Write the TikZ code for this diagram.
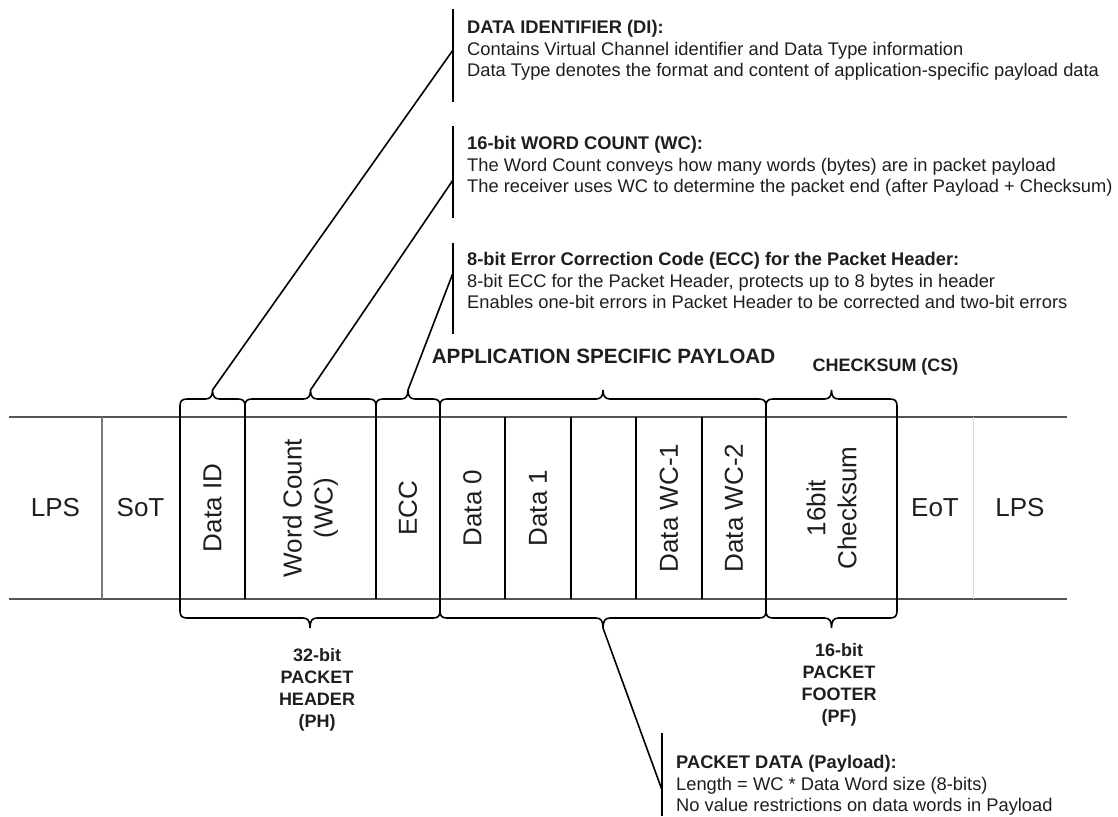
\documentclass[tikz,border=0pt]{standalone}
\usepackage{fontspec}
\setmainfont{Liberation Sans}
\usetikzlibrary{positioning}
\definecolor{lanegray}{HTML}{555555}
\definecolor{midgray}{HTML}{7A7A7A}
\definecolor{palegray}{HTML}{D8D8D8}
\definecolor{inkgray}{HTML}{1E1E1E}
\tikzset{field/.style={inner sep=0pt,align=center,text=inkgray,
 font=\fontsize{26}{31}\selectfont},
 vfield/.style={field,rotate=90},
 lane/.style={draw=lanegray,line width=2pt},
 divider/.style={draw=black,line width=1.5pt},
 softdivider/.style={draw=midgray,line width=1.2pt},
 faintdivider/.style={draw=palegray,line width=1pt},
 bracket/.style={draw=black,line width=1.6pt},
 leader/.style={draw=black,line width=1.6pt},
 notebar/.style={draw=black,line width=2pt},
 note/.style={anchor=north west,inner sep=0pt,align=left,text=inkgray,
 font=\fontsize{18.3}{21.5}\selectfont},
 heading/.style={anchor=base,inner sep=0pt,text=inkgray,font=\bfseries\fontsize{18}{21.5}\selectfont},
 caption/.style={anchor=north,inner sep=0pt,align=center,text=inkgray,
 font=\bfseries\fontsize{18}{22}\selectfont}}
% brace above a group of fields, tip named #1tip
\newcommand{\topbrace}[3]{%
 \pgfmathsetmacro\bmid{(#2+#3)/2}
 \coordinate (#1tip) at (\bmid,390);
 \draw[bracket] (#2,417) -- (#2,406) .. controls (#2,401) and (#2+2,399) .. (#2+7,399)
  -- (\bmid-7,399) .. controls (\bmid-2,399) and (\bmid,396) .. (#1tip)
  .. controls (\bmid,396) and (\bmid+2,399) .. (\bmid+7,399)
  -- (#3-7,399) .. controls (#3-2,399) and (#3,401) .. (#3,406) -- (#3,417);}
% brace below a group of fields, tip named #1tip
\newcommand{\lowbrace}[3]{%
 \pgfmathsetmacro\bmid{(#2+#3)/2}
 \coordinate (#1tip) at (\bmid,628);
 \draw[bracket] (#2,599) -- (#2,611) .. controls (#2,616) and (#2+2,618) .. (#2+7,618)
  -- (\bmid-7,618) .. controls (\bmid-2,618) and (\bmid,621) .. (#1tip)
  .. controls (\bmid,621) and (\bmid+2,618) .. (\bmid+7,618)
  -- (#3-7,618) .. controls (#3-2,618) and (#3,616) .. (#3,611) -- (#3,599);}

\begin{document}
\begin{tikzpicture}[x=1pt,y=-1pt]
 \useasboundingbox (0,0) rectangle (1118,816);
 % packet lane
 \draw[lane] (9,417) -- (1067,417);
 \draw[lane] (9,599) -- (1067,599);
 \draw[softdivider] (102,417) -- (102,599);
 \draw[faintdivider] (973,417) -- (973,599);
 \foreach \xx in {180,245,376,440,505,571,636,702,766,897}
  \draw[divider] (\xx,417) -- (\xx,599);
 \node[field] (lpsa) at (55.5,508) {LPS};
 \node[field] (sot) at (140.5,508) {SoT};
 \node[vfield] (did) at (212.5,508) {Data ID};
 \node[vfield] (wc) at (310.5,508) {Word Count\\(WC)};
 \node[vfield] (ecc) at (408,508) {ECC};
 \node[vfield] (dzero) at (472.5,508) {Data 0};
 \node[vfield] (done) at (538,508) {Data 1};
 \node[vfield] (dwca) at (669,508) {Data WC-1};
 \node[vfield] (dwcb) at (734,508) {Data WC-2};
 \node[vfield] (cs) at (831.5,508) {16bit\\Checksum};
 \node[field] (eot) at (935,508) {EoT};
 \node[field] (lpsb) at (1020,508) {LPS};
 % braces
 \topbrace{di}{180}{245}
 \topbrace{wcount}{245}{376}
 \topbrace{code}{376}{440}
 \topbrace{pay}{440}{766}
 \topbrace{sum}{766}{897}
 \lowbrace{ph}{180}{440}
 \lowbrace{pd}{440}{766}
 \lowbrace{pf}{766}{897}
 \node[heading,font=\bfseries\fontsize{20.7}{24}\selectfont] (paytitle) at (603.5,363) {APPLICATION SPECIFIC PAYLOAD};
 \node[heading] (sumtitle) at (885.5,371.5) {CHECKSUM (CS)};
 \node[caption] (phcap) at (317,648) {32-bit\\PACKET\\HEADER\\(PH)};
 \node[caption] (pfcap) at (839,643) {16-bit\\PACKET\\FOOTER\\(PF)};
 % notes
 \draw[notebar] (453,9) -- (453,102);
 \draw[notebar] (453,126) -- (453,218);
 \draw[notebar] (453,243) -- (453,334);
 \draw[notebar] (662,733) -- (662,816);
 \coordinate (dibar) at (453,50);
 \coordinate (wcountbar) at (453,180);
 \coordinate (codebar) at (453,273);
 \coordinate (pdbar) at (662,790);
 \draw[leader] (ditip) -- (dibar);
 \draw[leader] (wcounttip) -- (wcountbar);
 \draw[leader] (codetip) -- (codebar);
 \draw[leader] (pdtip) -- (pdbar);
 \node[note] (dinote) at (467,20.5) {\textbf{DATA IDENTIFIER (DI):}\\
  Contains Virtual Channel identifier and Data Type information\\
  Data Type denotes the format and content of application-specific payload data};
 \node[note] (wcnote) at (467,136.5) {\textbf{16-bit WORD COUNT (WC):}\\
  The Word Count conveys how many words (bytes) are in packet payload\\
  The receiver uses WC to determine the packet end (after Payload + Checksum)};
 \node[note] (eccnote) at (467,252.5) {\textbf{8-bit Error Correction Code (ECC) for the Packet Header:}\\
  8-bit ECC for the Packet Header, protects up to 8 bytes in header\\
  Enables one-bit errors in Packet Header to be corrected and two-bit errors};
 \node[note] (pdnote) at (676,755.5) {\textbf{PACKET DATA (Payload):}\\
  Length = WC * Data Word size (8-bits)\\
  No value restrictions on data words in Payload};
\end{tikzpicture}
\end{document}
